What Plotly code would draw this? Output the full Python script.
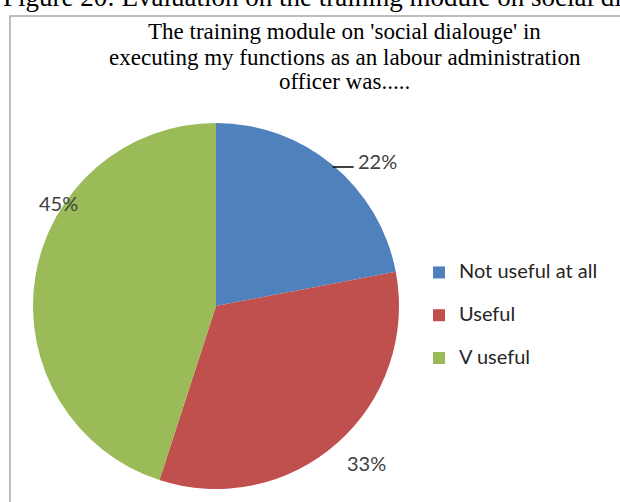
import math
import plotly.graph_objects as go

# Survey responses
categories = ["Not useful at all", "Useful", "V useful"]
shares = [22, 33, 45]
slice_colors = ["#4F81BD", "#C0504D", "#9BBB59"]

title_lines = [
    "The training module on 'social dialouge' in",
    "executing my functions as an labour administration",
    "officer was.....",
]
caption = "Figure 20: Evaluation on the training module on social dialouge"

W, H = 620, 502
CX, CY, R = 216, 306, 183  # pie centre / radius in pixels


def fx(x):
    return x / W


def fy(y):
    return 1 - y / H


# Legend entries: a larger first line plus a blank line for Excel-like spacing
legend_labels = [f"<span style='font-size:20px'>{c}</span><br> " for c in categories]

fig = go.Figure()
fig.add_trace(go.Pie(
    labels=legend_labels,
    values=shares,
    marker=dict(colors=slice_colors, line=dict(width=0)),
    sort=False,
    direction="clockwise",
    rotation=0,
    textinfo="none",
    hoverinfo="percent",
    domain=dict(x=[fx(CX - R), fx(CX + R)], y=[fy(CY + R), fy(CY - R)]),
))

annotations = []
shapes = []

# Chart frame
shapes.append(dict(type="rect", xref="paper", yref="paper",
                   x0=fx(10), x1=fx(640), y0=fy(520), y1=fy(16),
                   line=dict(color="#a8a8a8", width=1.5), layer="below"))

# Figure caption above the frame
annotations.append(dict(text=caption, xref="paper", yref="paper",
                        x=fx(1), y=fy(14), xanchor="left", yanchor="bottom",
                        showarrow=False,
                        font=dict(family="Liberation Serif", size=27, color="#000")))

# Chart title, one line at a time for tight line spacing
for k, line in enumerate(title_lines):
    annotations.append(dict(text=line, xref="paper", yref="paper",
                            x=fx(345), y=fy(32 + 25 * k), xanchor="center",
                            yanchor="middle", showarrow=False,
                            font=dict(family="Liberation Serif", size=23, color="#000")))

# Percentage labels placed around each slice's mid angle
total = sum(shares)
cum = 0
mids = []
for v in shares:
    mids.append((cum + v / 2) / total * 360)
    cum += v

label_font = dict(family="Lato", size=20, color="#404040")
for i, (v, ang) in enumerate(zip(shares, mids)):
    a = math.radians(ang)
    ex = CX + R * math.sin(a)
    ey = CY - R * math.cos(a)
    if i == 0:
        # short leader line from the rim, label to its right
        shapes.append(dict(type="line", xref="paper", yref="paper",
                           x0=fx(ex), y0=fy(ey + 2), x1=fx(ex + 21), y1=fy(ey + 2),
                           line=dict(color="#000", width=1.5)))
        annotations.append(dict(text=f"{v}%", xref="paper", yref="paper",
                                x=fx(ex + 23), y=fy(ey - 4), xanchor="left",
                                yanchor="middle", showarrow=False, font=label_font))
    elif i == 1:
        annotations.append(dict(text=f"{v}%", xref="paper", yref="paper",
                                x=fx(ex + 29), y=fy(ey + 20), xanchor="center",
                                yanchor="middle", showarrow=False, font=label_font))
    else:
        annotations.append(dict(text=f"{v}%", xref="paper", yref="paper",
                                x=fx(58), y=fy(203), xanchor="center",
                                yanchor="middle", showarrow=False, font=label_font))

fig.update_layout(
    width=W, height=H,
    margin=dict(l=0, r=0, t=0, b=0),
    paper_bgcolor="white",
    plot_bgcolor="white",
    showlegend=True,
    legend=dict(
        x=fx(419), y=fy(256), xanchor="left", yanchor="top",
        font=dict(family="Lato", size=15.3, color="#262626"),
        valign="top",
        bgcolor="rgba(0,0,0,0)",
    ),
    annotations=annotations,
    shapes=shapes,
)

fig.write_html("out.html")
